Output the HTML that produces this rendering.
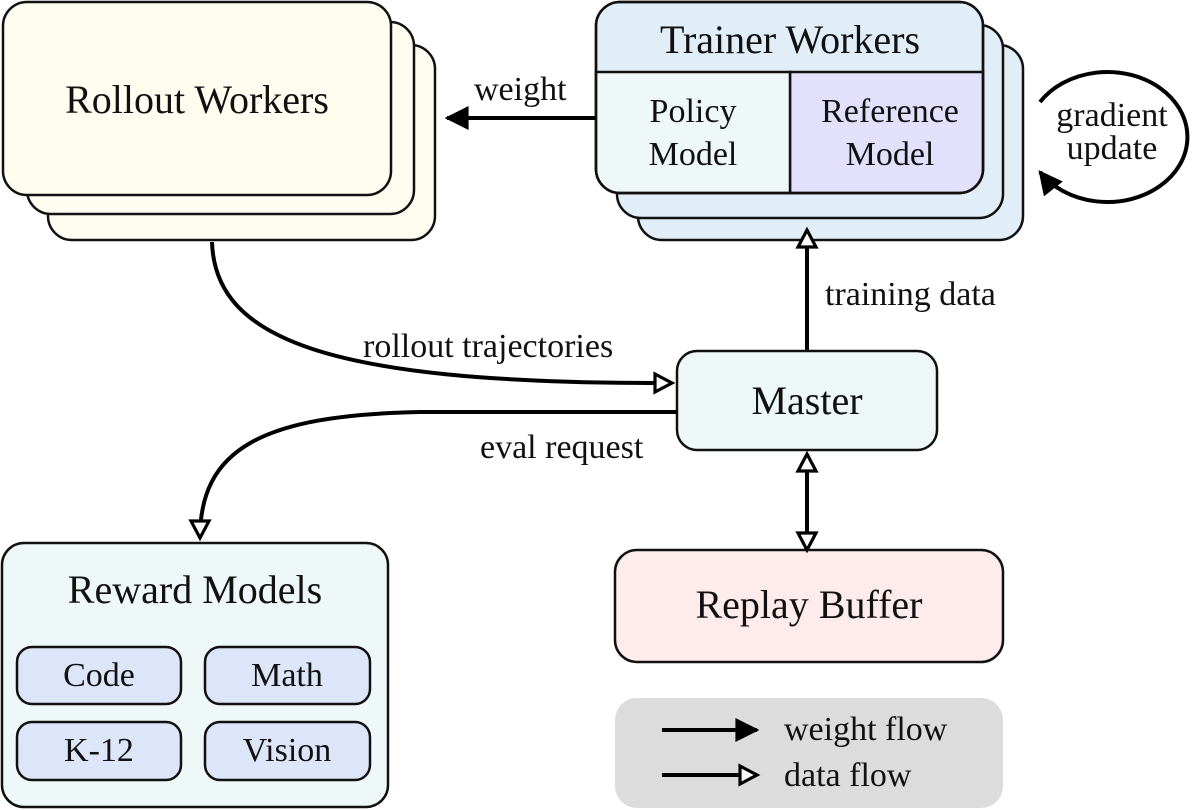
<!DOCTYPE html>
<html><head><meta charset="utf-8"><style>
html,body{margin:0;padding:0;background:#fff;}
svg{display:block;}
text{font-family:"Liberation Serif",serif;fill:#111;}
</style></head><body>
<svg width="1200" height="810" viewBox="0 0 1200 810" xmlns="http://www.w3.org/2000/svg">
<defs>
<marker id="fill" viewBox="0 0 10 10" refX="9" refY="5" markerWidth="6.5" markerHeight="6" orient="auto-start-reverse" markerUnits="strokeWidth">
<path d="M0,0 L10,5 L0,10 z" fill="#000"/></marker>
<marker id="open" viewBox="0 0 12 12" refX="10" refY="6" markerWidth="6" markerHeight="6" orient="auto-start-reverse" markerUnits="strokeWidth">
<path d="M1.5,1.5 L10,6 L1.5,10.5 z" fill="#fff" stroke="#000" stroke-width="1.6"/></marker>
</defs>
<g stroke="#111" stroke-width="2.5">
<rect x="48" y="45" width="387" height="195" rx="24" fill="#fffcf0"/>
<rect x="27" y="22" width="387" height="192" rx="24" fill="#fffcf0"/>
<rect x="3" y="2" width="388" height="193" rx="24" fill="#fffcf0"/>
<rect x="638" y="45" width="385" height="195" rx="24" fill="#e1eef8"/>
<rect x="617" y="25" width="386" height="193" rx="24" fill="#e1eef8"/>
<rect x="596" y="2" width="387" height="191" rx="24" fill="#e1eef8"/>
<path d="M790,72 H983 V169 a24,24 0 0 1 -24,24 H790 z" fill="#e3e0fb"/>
<path d="M596,72 H790 V193 H620 a24,24 0 0 1 -24,-24 z" fill="#eff8f8"/>
<rect x="596" y="2" width="387" height="191" rx="24" fill="none"/>
<rect x="677" y="351" width="260" height="99" rx="20" fill="#eff8f8"/>
<rect x="615" y="550" width="388" height="112" rx="22" fill="#fdeceb"/>
<rect x="2" y="543" width="386" height="264" rx="22" fill="#eff8f8"/>
<rect x="17" y="647" width="164" height="57" rx="15" fill="#dce6f8"/>
<rect x="205" y="647" width="165" height="57" rx="15" fill="#dce6f8"/>
<rect x="17" y="722" width="164" height="58" rx="15" fill="#dce6f8"/>
<rect x="205" y="722" width="165" height="58" rx="15" fill="#dce6f8"/>
</g>
<rect x="615" y="698" width="388" height="110" rx="22" fill="#dcdcdc"/>
<g fill="none" stroke="#000" stroke-width="4">
<line x1="596" y1="118" x2="447" y2="118" marker-end="url(#fill)"/>
<path d="M1040,102 A80,65 0 1 1 1040,172" marker-end="url(#fill)"/>
<line x1="807" y1="350" x2="807" y2="230" marker-end="url(#open)"/>
<line x1="807" y1="454" x2="807" y2="550" marker-start="url(#open)" marker-end="url(#open)"/>
<path d="M212,242 C215,340 330,382 650,383 L672,383" marker-end="url(#open)"/>
<path d="M677,412 L420,412 C260,415 200,450 200,538" marker-end="url(#open)"/>
<line x1="662" y1="730" x2="757" y2="730" marker-end="url(#fill)"/>
<line x1="662" y1="775" x2="757" y2="775" marker-end="url(#open)"/>
</g>
<g font-size="40" text-anchor="middle">
<text x="197" y="113">Rollout Workers</text>
<text x="790" y="53">Trainer Workers</text>
<text x="807" y="414">Master</text>
<text x="809" y="618">Replay Buffer</text>
<text x="195" y="603">Reward Models</text>
</g>
<g font-size="34" text-anchor="middle">
<text x="693" y="122">Policy</text><text x="693" y="165">Model</text>
<text x="890" y="122">Reference</text><text x="890" y="165">Model</text>
<text x="99" y="686">Code</text><text x="287" y="686">Math</text>
<text x="99" y="761">K-12</text><text x="287" y="761">Vision</text>
<text x="1112" y="126">gradient</text><text x="1112" y="159">update</text>
</g>
<g font-size="34">
<text x="474" y="100">weight</text>
<text x="825" y="305">training data</text>
<text x="363" y="357">rollout trajectories</text>
<text x="480" y="458">eval request</text>
<text x="784" y="740">weight flow</text>
<text x="784" y="786">data flow</text>
</g>
</svg>
</body></html>
